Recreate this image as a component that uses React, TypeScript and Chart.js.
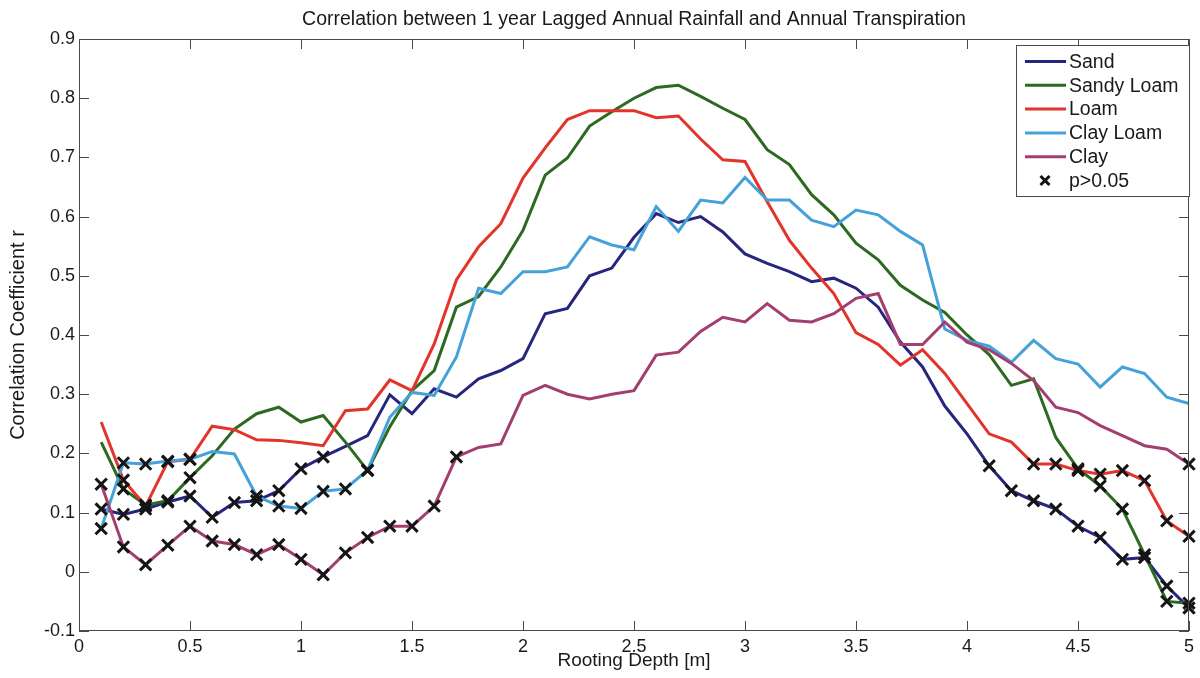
import React, { useEffect, useRef } from "react";
import { Chart, registerables } from "chart.js";

Chart.register(...registerables);

// ---- Data ----
const depths = [
  0.1, 0.2, 0.3, 0.4, 0.5, 0.6, 0.7, 0.8, 0.9, 1.0,
  1.1, 1.2, 1.3, 1.4, 1.5, 1.6, 1.7, 1.8, 1.9, 2.0,
  2.1, 2.2, 2.3, 2.4, 2.5, 2.6, 2.7, 2.8, 2.9, 3.0,
  3.1, 3.2, 3.3, 3.4, 3.5, 3.6, 3.7, 3.8, 3.9, 4.0,
  4.1, 4.2, 4.3, 4.4, 4.5, 4.6, 4.7, 4.8, 4.9, 5.0,
];

const sand = [
  0.106, 0.097, 0.106, 0.118, 0.128, 0.092, 0.117, 0.12, 0.137, 0.174,
  0.194, 0.212, 0.23, 0.299, 0.267, 0.309, 0.295, 0.326, 0.34, 0.36,
  0.436, 0.445, 0.5, 0.513, 0.565, 0.605, 0.59, 0.6, 0.574, 0.537,
  0.521, 0.507, 0.49, 0.496, 0.479, 0.447, 0.388, 0.346, 0.28, 0.233,
  0.179, 0.137, 0.12, 0.106, 0.077, 0.058, 0.021, 0.024, -0.024, -0.061,
];

const sandyLoam = [
  0.219, 0.14, 0.113, 0.12, 0.159, 0.196, 0.241, 0.267, 0.278, 0.253,
  0.264, 0.219, 0.171, 0.245, 0.306, 0.34, 0.447, 0.465, 0.515, 0.577,
  0.67, 0.699, 0.753, 0.777, 0.8, 0.818, 0.822, 0.803, 0.783, 0.764,
  0.713, 0.688, 0.637, 0.603, 0.555, 0.527, 0.484, 0.459, 0.438, 0.4,
  0.367, 0.315, 0.326, 0.227, 0.174, 0.145, 0.106, 0.029, -0.05, -0.053,
];

const loam = [
  0.253, 0.155, 0.111, 0.186, 0.19, 0.246, 0.24, 0.223, 0.222, 0.218,
  0.213, 0.272, 0.275, 0.324, 0.306, 0.385, 0.493, 0.549, 0.588, 0.665,
  0.716, 0.764, 0.779, 0.779, 0.779, 0.767, 0.77, 0.731, 0.696, 0.693,
  0.625, 0.56, 0.513, 0.47, 0.404, 0.384, 0.349, 0.375, 0.335, 0.284,
  0.233, 0.219, 0.182, 0.182, 0.171, 0.165, 0.171, 0.154, 0.086, 0.06,
];

const clayLoam = [
  0.073, 0.184, 0.182, 0.187, 0.19, 0.203, 0.199, 0.128, 0.111, 0.107,
  0.136, 0.14, 0.172, 0.261, 0.303, 0.298, 0.363, 0.479, 0.47, 0.507,
  0.507, 0.515, 0.566, 0.552, 0.544, 0.617, 0.575, 0.628, 0.623, 0.666,
  0.628, 0.628, 0.594, 0.583, 0.611, 0.603, 0.575, 0.552, 0.41, 0.391,
  0.381, 0.354, 0.391, 0.36, 0.351, 0.312, 0.346, 0.335, 0.295, 0.284,
];

const clay = [
  0.148, 0.042, 0.012, 0.045, 0.077, 0.052, 0.046, 0.029, 0.046, 0.021,
  -0.005, 0.032, 0.058, 0.077, 0.077, 0.111, 0.194, 0.21, 0.216, 0.298,
  0.315, 0.3, 0.292, 0.3, 0.306, 0.366, 0.371, 0.406, 0.43, 0.422,
  0.453, 0.425, 0.422, 0.436, 0.462, 0.47, 0.384, 0.384, 0.422, 0.388,
  0.375, 0.352, 0.323, 0.278, 0.269, 0.247, 0.23, 0.213, 0.207, 0.182,
];

// depths where p > 0.05 for each series
const sandNS = [0.1, 0.2, 0.3, 0.4, 0.5, 0.6, 0.7, 0.8, 0.9, 1.0, 1.1, 4.1, 4.2, 4.3, 4.4, 4.5, 4.6, 4.7, 4.8, 4.9, 5.0];
const sandyLoamNS = [0.2, 0.3, 0.4, 0.5, 1.3, 4.5, 4.6, 4.7, 4.8, 4.9, 5.0];
const loamNS = [0.2, 0.3, 0.4, 0.5, 4.3, 4.4, 4.5, 4.6, 4.7, 4.8, 4.9, 5.0];
const clayLoamNS = [0.1, 0.2, 0.3, 0.4, 0.5, 0.8, 0.9, 1.0, 1.1, 1.2, 1.3];
const clayNS = [0.1, 0.2, 0.3, 0.4, 0.5, 0.6, 0.7, 0.8, 0.9, 1.0, 1.1, 1.2, 1.3, 1.4, 1.5, 1.6, 1.7, 5.0];

const seriesNames = ["Sand", "Sandy Loam", "Loam", "Clay Loam", "Clay"];
const markerLabel = "p>0.05";
const xTickValues = [0, 0.5, 1, 1.5, 2, 2.5, 3, 3.5, 4, 4.5, 5];
const yTickValues = [-0.1, 0, 0.1, 0.2, 0.3, 0.4, 0.5, 0.6, 0.7, 0.8, 0.9];

const chartTitle = "Correlation between 1 year Lagged Annual Rainfall and Annual Transpiration";
const xTitle = "Rooting Depth [m]";
const yTitle = "Correlation Coefficient r";

// ---- Styles ----
const seriesColors = ["#27267e", "#2c6a22", "#e2342a", "#44a2d8", "#a33f70"];
const FONT = "'Liberation Sans', Arial, Helvetica, sans-serif";
const TEXT = "#1a1a1a";
const FRAME = "#4a4a4a";

const frameLegendPlugin = {
  id: "frameLegend",
  afterDraw(chart: any) {
    const { ctx, chartArea } = chart;
    const { left, right, top, bottom } = chartArea;
    const xs = chart.scales.x;
    const ys = chart.scales.y;
    ctx.save();
    ctx.strokeStyle = FRAME;
    ctx.lineWidth = 1;
    ctx.strokeRect(left + 0.5, top + 0.5, right - left - 1, bottom - top - 1);
    const tl = 10;
    ctx.beginPath();
    xTickValues.forEach((v) => {
      const px = Math.round(xs.getPixelForValue(v)) + 0.5;
      ctx.moveTo(px, bottom);
      ctx.lineTo(px, bottom - tl);
      ctx.moveTo(px, top);
      ctx.lineTo(px, top + tl);
    });
    yTickValues.forEach((v) => {
      const py = Math.round(ys.getPixelForValue(v)) + 0.5;
      ctx.moveTo(left, py);
      ctx.lineTo(left + tl, py);
      ctx.moveTo(right, py);
      ctx.lineTo(right - tl, py);
    });
    ctx.stroke();

    // legend (inside the plot, top-right)
    const datasets = chart.data.datasets;
    const boxLeft = 1016;
    const boxTop = 45;
    const boxW = 173;
    const rowH = 23.8;
    const boxH = 151;
    ctx.fillStyle = "#ffffff";
    ctx.fillRect(boxLeft, boxTop, boxW, boxH);
    ctx.strokeStyle = FRAME;
    ctx.lineWidth = 1;
    ctx.strokeRect(boxLeft + 0.5, boxTop + 0.5, boxW, boxH);
    ctx.font = `19.5px ${FONT}`;
    ctx.textBaseline = "middle";
    ctx.textAlign = "left";
    const entries = [...datasets.filter((d: any) => d.type !== "scatter"), ...datasets.filter((d: any) => d.type === "scatter")];
    entries.forEach((d: any, i: number) => {
      const cy = boxTop + 16.5 + i * rowH;
      if (d.type === "scatter") {
        const cx = 1045;
        const r = 4.5;
        ctx.strokeStyle = "#111";
        ctx.lineWidth = 3;
        ctx.beginPath();
        ctx.moveTo(cx - r, cy - r);
        ctx.lineTo(cx + r, cy + r);
        ctx.moveTo(cx + r, cy - r);
        ctx.lineTo(cx - r, cy + r);
        ctx.stroke();
      } else {
        ctx.strokeStyle = d.borderColor;
        ctx.lineWidth = 3;
        ctx.beginPath();
        ctx.moveTo(1025, cy);
        ctx.lineTo(1066, cy);
        ctx.stroke();
      }
      ctx.fillStyle = TEXT;
      ctx.fillText(d.label, 1069, cy + 1);
    });
    ctx.restore();
  },
};

export default function App() {
  const canvasRef = useRef<HTMLCanvasElement | null>(null);

  useEffect(() => {
    const canvas = canvasRef.current;
    if (!canvas) return;
    const seriesValues = [sand, sandyLoam, loam, clayLoam, clay];
    const seriesNS = [sandNS, sandyLoamNS, loamNS, clayLoamNS, clayNS];

    const lineSets = seriesValues.map((vals, i) => ({
      type: "line" as const,
      label: seriesNames[i],
      data: depths.map((d, j) => ({ x: d, y: vals[j] })),
      borderColor: seriesColors[i],
      backgroundColor: seriesColors[i],
      borderWidth: 3,
      pointRadius: 0,
      tension: 0,
      order: 5 - i,
    }));

    const markerPoints: { x: number; y: number }[] = [];
    seriesNS.forEach((ns, i) => {
      ns.forEach((d) => {
        const j = depths.indexOf(d);
        if (j >= 0) markerPoints.push({ x: d, y: seriesValues[i][j] });
      });
    });

    const markerSet = {
      type: "scatter" as const,
      label: markerLabel,
      data: markerPoints,
      pointStyle: "crossRot",
      pointRadius: 8,
      borderColor: "#151515",
      backgroundColor: "#151515",
      pointBorderWidth: 3,
      borderWidth: 3,
      showLine: false,
      clip: false,
      order: 0,
    };

    const chart = new Chart(canvas, {
      type: "line",
      data: { datasets: [...lineSets, markerSet] as any },
      options: {
        animation: false,
        responsive: false,
        maintainAspectRatio: false,
        devicePixelRatio: 1,
        layout: { padding: { left: 0, right: 10, top: 0, bottom: 0 } },
        plugins: {
          legend: { display: false },
          tooltip: { enabled: false },
          title: {
            display: true,
            text: chartTitle,
            fullSize: false,
            color: TEXT,
            font: { family: FONT, size: 19.5, weight: "normal", lineHeight: "19px" } as any,
            padding: { top: 10, bottom: 10 },
          },
        },
        scales: {
          x: {
            type: "linear",
            min: 0,
            max: 5,
            afterFit: (s: any) => {
              s.height = 47;
            },
            afterBuildTicks: (s: any) => {
              s.ticks = xTickValues.map((v) => ({ value: v }));
            },
            ticks: {
              color: TEXT,
              font: { family: FONT, size: 18 },
              padding: 5,
              maxRotation: 0,
              autoSkip: false,
              callback: (v: any) => String(v),
            },
            grid: { display: false, drawTicks: false },
            border: { display: false },
            title: {
              display: true,
              text: xTitle,
              color: TEXT,
              font: { family: FONT, size: 19, lineHeight: 1.1 },
              padding: { top: 0, bottom: 7 },
            },
          },
          y: {
            type: "linear",
            min: -0.1,
            max: 0.9,
            afterFit: (s: any) => {
              s.width = 79;
            },
            afterBuildTicks: (s: any) => {
              s.ticks = yTickValues.map((v) => ({ value: v }));
            },
            ticks: {
              color: TEXT,
              font: { family: FONT, size: 18 },
              padding: 4,
              autoSkip: false,
              callback: (v: any) => (Math.abs(v) < 1e-9 ? "0" : Number(v).toFixed(1)),
            },
            grid: { display: false, drawTicks: false },
            border: { display: false },
            title: {
              display: true,
              text: yTitle,
              color: TEXT,
              font: { family: FONT, size: 20, lineHeight: 1.1 },
              padding: { top: 7, bottom: 0 },
            },
          },
        },
      },
      plugins: [frameLegendPlugin],
    });

    return () => chart.destroy();
  }, []);

  return (
    <div style={{ position: "absolute", left: 0, top: 0, width: 1200, height: 678, background: "#fff" }}>
      <canvas ref={canvasRef} width={1200} height={678} style={{ display: "block" }} />
    </div>
  );
}
